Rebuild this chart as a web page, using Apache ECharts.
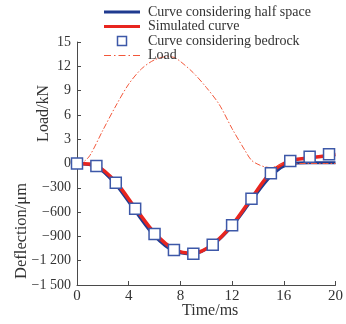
<!DOCTYPE html>
<html>
<head>
<meta charset="utf-8">
<script src="https://cdn.jsdelivr.net/npm/echarts@6/dist/echarts.min.js"></script>
<style>
  html, body { margin: 0; padding: 0; background: #fff; }
  #chart { width: 346px; height: 324px; }
</style>
</head>
<body>
<div id="chart"></div>
<script>
// deflection in µm, load in kN (load is drawn on the upper half, 1 kN = 100 units)
const seriesNames = ["Curve considering half space", "Simulated curve", "Curve considering bedrock", "Load"];

const halfSpaceTime = [0, 1.5, 3, 4.5, 6, 7.5, 9, 10.5, 12, 13.5, 15, 16.5, 18, 20];
const halfSpaceDefl = [0, -40, -258, -585, -895, -1082, -1115, -1005, -772, -455, -155, 0, 10, 10];

const simulatedTime = [0, 1.5, 3, 4.5, 6, 7.5, 9, 10.5, 12, 13.5, 15, 16.5, 18, 20];
const simulatedDefl = [0, -28, -228, -548, -858, -1058, -1108, -998, -758, -428, -112, 35, 70, 110];

const bedrockTime = [0, 1.5, 3, 4.5, 6, 7.5, 9, 10.5, 12, 13.5, 15, 16.5, 18, 19.5];
const bedrockDefl = [0, -30, -238, -558, -870, -1068, -1114, -1003, -763, -435, -121, 31, 84, 114];

const loadTime = [0, 0.5, 1, 2, 3, 4, 5, 6, 7, 7.5, 8, 9, 10, 11, 12, 13, 13.5, 14, 14.5, 15, 15.5, 16, 17, 18, 19, 20];
const loadKN = [0, 0.2, 1.0, 4.1, 7.1, 9.8, 11.7, 12.8, 13.2, 13.1, 12.6, 11.2, 9.4, 7.3, 4.3, 1.6, 0.4, -0.1, -0.4, -0.5, -0.3, 0, 0, 0, 0, 0];

const xTicks = [0, 4, 8, 12, 16, 20];

const pairs = (xs, ys, k) => xs.map((x, i) => [x, ys[i] * (k || 1)]);

const FONT = "'Liberation Serif', 'DejaVu Serif', serif";
const AXIS_COLOR = "#4a4a4a";
const BLUE = "#1f3a8f";
const RED = "#e8251f";
const SQUARE = "#3d58a8";
const LOAD = "#f2573a";

// legend icons (kept to aspect by the legend)
const ICON_THICK = "path://M0,0h36v3h-36z";
const ICON_DASHDOT = "path://M0,0h7v1h-7zM10,0h1.5v1h-1.5zM14.5,0h7v1h-7zM24.5,0h1.5v1h-1.5zM29,0h7v1h-7z";
const ICON_SQUARE = "path://M0,0h10v10h-10z";

function yLabel(v) {
  if (v > 0) return String(v / 100);
  if (v === 0) return "0";
  const n = Math.abs(v);
  const s = n >= 1000 ? Math.floor(n / 1000) + " " + String(n % 1000).padStart(3, "0") : String(n);
  return "\u2212" + s;
}

const chart = echarts.init(document.getElementById("chart"));
chart.setOption({
  animation: false,
  grid: { left: 77, right: 8, top: 42, bottom: 39 },
  legend: {
    orient: "vertical",
    left: 99,
    top: 0,
    itemWidth: 36,
    itemHeight: 9,
    itemGap: 0.5,
    textStyle: { fontFamily: FONT, fontSize: 14, color: "#333", lineHeight: 13.5, padding: [0, 0, 0, 3] },
    data: [
      { name: seriesNames[0], icon: ICON_THICK, itemStyle: { color: BLUE, borderWidth: 0 } },
      { name: seriesNames[1], icon: ICON_THICK, itemStyle: { color: RED, borderWidth: 0 } },
      { name: seriesNames[2], icon: ICON_SQUARE, itemStyle: { color: "#fff", borderColor: SQUARE, borderWidth: 1.5 } },
      { name: seriesNames[3], icon: ICON_DASHDOT, itemStyle: { color: LOAD, borderWidth: 0 } }
    ]
  },
  xAxis: {
    type: "value",
    min: 0,
    max: 20,
    interval: 4,
    axisLine: { onZero: false, lineStyle: { color: AXIS_COLOR } },
    axisTick: { inside: true, length: 4, lineStyle: { color: AXIS_COLOR } },
    axisLabel: {
      fontFamily: FONT, fontSize: 15, color: "#333", margin: 4,
      formatter: (v) => (xTicks.includes(v) ? String(v) : "")
    },
    splitLine: { show: false }
  },
  yAxis: {
    type: "value",
    min: -1500,
    max: 1500,
    interval: 300,
    axisLine: { show: true, onZero: false, lineStyle: { color: AXIS_COLOR } },
    axisTick: { show: true, inside: true, length: 4, lineStyle: { color: AXIS_COLOR } },
    axisLabel: { fontFamily: FONT, fontSize: 14, color: "#333", margin: 6, formatter: yLabel },
    splitLine: { show: false }
  },
  graphic: [
    {
      type: "text", left: 36, top: 85, rotation: Math.PI / 2,
      style: { text: "Load/kN", font: "16px " + FONT, fill: "#333" }
    },
    {
      type: "text", left: 13, top: 183, rotation: Math.PI / 2,
      style: { text: "Deflection/\u03bcm", font: "16.5px " + FONT, fill: "#333" }
    },
    {
      type: "text", left: 182, top: 303,
      style: { text: "Time/ms", font: "16px " + FONT, fill: "#333" }
    }
  ],
  series: [
    {
      name: seriesNames[0],
      type: "line",
      data: pairs(halfSpaceTime, halfSpaceDefl),
      smooth: 0.3,
      showSymbol: false,
      symbol: "none",
      color: BLUE,
      lineStyle: { color: BLUE, width: 3 }
    },
    {
      name: seriesNames[1],
      type: "line",
      data: pairs(simulatedTime, simulatedDefl),
      smooth: 0.3,
      showSymbol: false,
      symbol: "none",
      color: RED,
      lineStyle: { color: RED, width: 3.5 }
    },
    {
      name: seriesNames[2],
      type: "scatter",
      data: pairs(bedrockTime, bedrockDefl),
      symbol: "rect",
      symbolSize: 11,
      color: SQUARE,
      itemStyle: { color: "#fff", borderColor: SQUARE, borderWidth: 1.5, opacity: 1 },
      z: 5
    },
    {
      name: seriesNames[3],
      type: "line",
      data: pairs(loadTime, loadKN, 100),
      smooth: 0.3,
      showSymbol: false,
      symbol: "none",
      color: LOAD,
      lineStyle: { color: LOAD, width: 1, type: [6, 2, 1.5, 2] }
    }
  ]
});
</script>
</body>
</html>
